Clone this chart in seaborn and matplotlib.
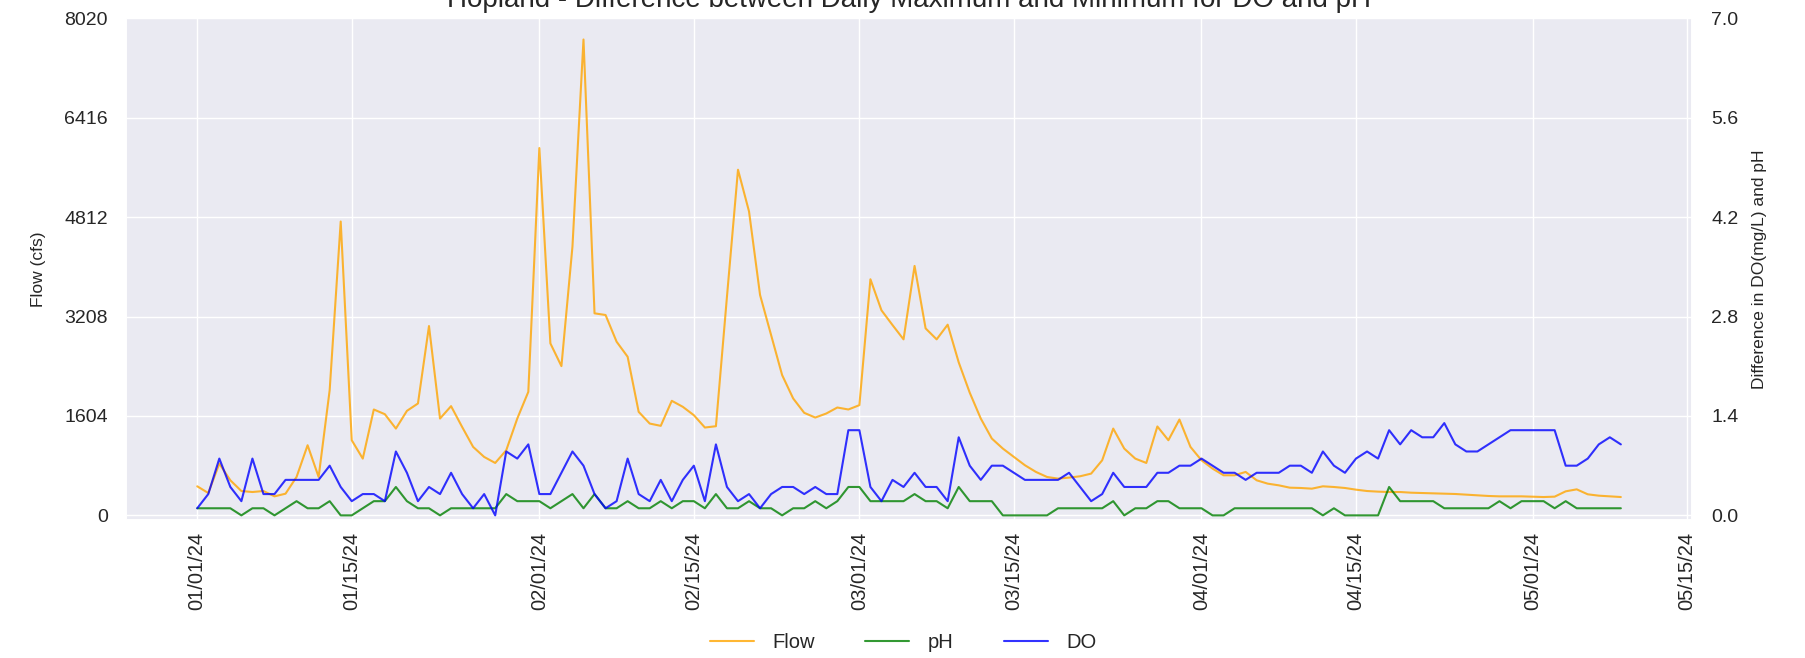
import pandas as pd
import numpy as np
import matplotlib
matplotlib.use('Agg')
import matplotlib.pyplot as plt
import matplotlib.dates as mdates
import seaborn as sns

# daily values, 01/01/24 .. 05/09/24
start_date = '2024-01-01'
flow_cfs = [469, 361, 835, 566, 393, 377, 393, 307, 350, 620,
            1132, 620, 2021, 4743, 1213, 916, 1709, 1633, 1401, 1687,
            1806, 3056, 1563, 1763, 1428, 1105, 943, 846, 1051, 1563,
            1994, 5929, 2776, 2409, 4339, 7681, 3261, 3234, 2803, 2560,
            1671, 1482, 1445, 1849, 1752, 1617, 1418, 1439, 3530, 5579,
            4905, 3557, 2911, 2264, 1887, 1655, 1579, 1644, 1741, 1709,
            1779, 3811, 3310, 3072, 2841, 4026, 3018, 2841, 3078, 2470,
            1980, 1563, 1240, 1078, 943, 809, 701, 620, 593, 610,
            631, 674, 889, 1401, 1078, 916, 846, 1435, 1213, 1547,
            1105, 889, 755, 647, 647, 701, 566, 512, 485, 447,
            442, 431, 469, 458, 442, 415, 393, 383, 377, 377,
            366, 361, 356, 350, 345, 334, 323, 313, 307, 307,
            307, 302, 296, 302, 388, 420, 340, 318, 307, 296]
ph_diff = [0.1, 0.1, 0.1, 0.1, 0.0, 0.1, 0.1, 0.0, 0.1, 0.2,
           0.1, 0.1, 0.2, 0.0, 0.0, 0.1, 0.2, 0.2, 0.4, 0.2,
           0.1, 0.1, 0.0, 0.1, 0.1, 0.1, 0.1, 0.1, 0.3, 0.2,
           0.2, 0.2, 0.1, 0.2, 0.3, 0.1, 0.3, 0.1, 0.1, 0.2,
           0.1, 0.1, 0.2, 0.1, 0.2, 0.2, 0.1, 0.3, 0.1, 0.1,
           0.2, 0.1, 0.1, 0.0, 0.1, 0.1, 0.2, 0.1, 0.2, 0.4,
           0.4, 0.2, 0.2, 0.2, 0.2, 0.3, 0.2, 0.2, 0.1, 0.4,
           0.2, 0.2, 0.2, 0.0, 0.0, 0.0, 0.0, 0.0, 0.1, 0.1,
           0.1, 0.1, 0.1, 0.2, 0.0, 0.1, 0.1, 0.2, 0.2, 0.1,
           0.1, 0.1, 0.0, 0.0, 0.1, 0.1, 0.1, 0.1, 0.1, 0.1,
           0.1, 0.1, 0.0, 0.1, 0.0, 0.0, 0.0, 0.0, 0.4, 0.2,
           0.2, 0.2, 0.2, 0.1, 0.1, 0.1, 0.1, 0.1, 0.2, 0.1,
           0.2, 0.2, 0.2, 0.1, 0.2, 0.1, 0.1, 0.1, 0.1, 0.1]
do_diff = [0.1, 0.3, 0.8, 0.4, 0.2, 0.8, 0.3, 0.3, 0.5, 0.5,
           0.5, 0.5, 0.7, 0.4, 0.2, 0.3, 0.3, 0.2, 0.9, 0.6,
           0.2, 0.4, 0.3, 0.6, 0.3, 0.1, 0.3, 0.0, 0.9, 0.8,
           1.0, 0.3, 0.3, 0.6, 0.9, 0.7, 0.3, 0.1, 0.2, 0.8,
           0.3, 0.2, 0.5, 0.2, 0.5, 0.7, 0.2, 1.0, 0.4, 0.2,
           0.3, 0.1, 0.3, 0.4, 0.4, 0.3, 0.4, 0.3, 0.3, 1.2,
           1.2, 0.4, 0.2, 0.5, 0.4, 0.6, 0.4, 0.4, 0.2, 1.1,
           0.7, 0.5, 0.7, 0.7, 0.6, 0.5, 0.5, 0.5, 0.5, 0.6,
           0.4, 0.2, 0.3, 0.6, 0.4, 0.4, 0.4, 0.6, 0.6, 0.7,
           0.7, 0.8, 0.7, 0.6, 0.6, 0.5, 0.6, 0.6, 0.6, 0.7,
           0.7, 0.6, 0.9, 0.7, 0.6, 0.8, 0.9, 0.8, 1.2, 1.0,
           1.2, 1.1, 1.1, 1.3, 1.0, 0.9, 0.9, 1.0, 1.1, 1.2,
           1.2, 1.2, 1.2, 1.2, 0.7, 0.7, 0.8, 1.0, 1.1, 1.0]

flow_ticks = [0, 1604, 3208, 4812, 6416, 8020]
diff_ticks = [0.0, 1.4, 2.8, 4.2, 5.6, 7.0]

dates = pd.date_range(start_date, periods=len(flow_cfs), freq='D')
df = pd.DataFrame({'date': dates, 'Flow': flow_cfs, 'pH': ph_diff, 'DO': do_diff})

sns.set_theme(style='darkgrid')
plt.rcParams['font.family'] = ['Liberation Sans', 'DejaVu Sans']

fig = plt.figure(figsize=(18.06, 6.58), dpi=100)
ax1 = fig.add_axes([0.0698, 0.2097, 0.8671, 0.7622])
ax2 = ax1.twinx()

sns.lineplot(data=df, x='date', y='Flow', ax=ax1, color='orange', alpha=0.8, linewidth=1.5, label='Flow', legend=False)
sns.lineplot(data=df, x='date', y='pH', ax=ax2, color='green', alpha=0.8, linewidth=1.5, label='pH', legend=False)
sns.lineplot(data=df, x='date', y='DO', ax=ax2, color='blue', alpha=0.8, linewidth=1.5, label='DO', legend=False)

ax1.set_ylim(-75, 8020)
ax1.set_yticks(flow_ticks)
ax1.set_yticklabels([str(t) for t in flow_ticks])
ax2.set_ylim(-0.0655, 7.0)
ax2.set_yticks(diff_ticks)
ax2.set_yticklabels([f'{t:.1f}' for t in diff_ticks])
ax2.grid(False)

ax1.xaxis.set_major_locator(mdates.DayLocator(bymonthday=[1, 15]))
ax1.xaxis.set_major_formatter(mdates.DateFormatter('%m/%d/%y'))
ax1.tick_params(axis='x', rotation=90, labelsize=14.5, pad=8.5, length=0)
ax1.tick_params(axis='y', labelsize=14, pad=13, length=0)
ax2.tick_params(axis='y', labelsize=14, pad=14, length=0)

ax1.set_xlabel('')
ax1.set_ylabel('Flow (cfs)', fontsize=12.5, labelpad=13)
ax2.set_ylabel('Difference in DO(mg/L) and pH', fontsize=12.5, labelpad=9.5)

ax1.set_title('Hopland - Difference between Daily Maximum and Minimum for DO and pH',
              fontsize=20, y=1.023, va='baseline', pad=0)

handles = ax1.get_lines() + ax2.get_lines()
labels = [h.get_label() for h in handles]
fig.legend(handles, labels, loc='center', bbox_to_anchor=(0.5, 1 - 643 / 658), ncol=3,
           frameon=False, fontsize=14.5, columnspacing=2.5, handlelength=2.2, handletextpad=0.9)

plt.savefig('out.png', dpi=100)
plt.close()
